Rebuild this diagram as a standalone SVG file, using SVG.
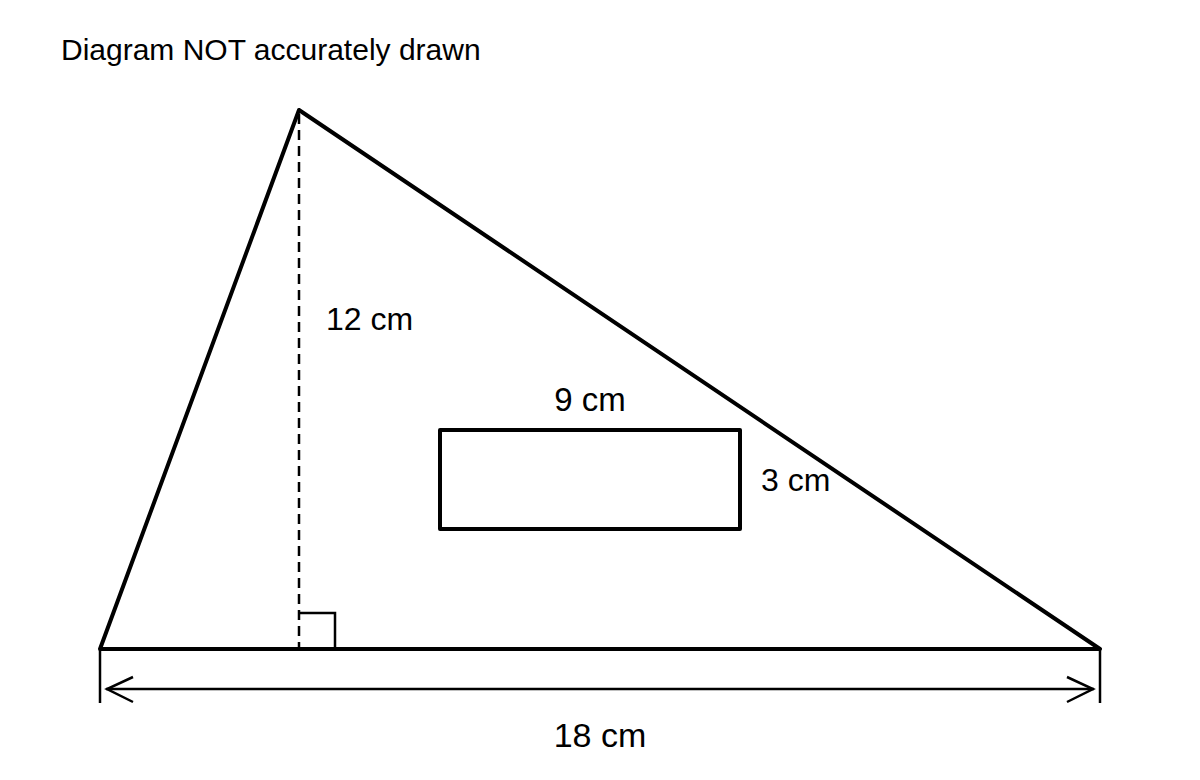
<svg xmlns="http://www.w3.org/2000/svg" width="1200" height="780" viewBox="0 0 1200 780">
<style>
.t{font-family:"Liberation Sans",Arial,sans-serif;fill:#000}
.thick{fill:none;stroke:#000;stroke-width:4;stroke-linejoin:round}
.thin{fill:none;stroke:#000;stroke-width:2.5}
</style>
<rect width="1200" height="780" fill="#fff"/>
<text class="t" x="61" y="60" font-size="30">Diagram NOT accurately drawn</text>
<g id="triangle">
<polygon class="thick" points="100,649 299,110 1100,649"/>
</g>
<g id="height">
<line class="thin" x1="299" y1="114" x2="299" y2="647" stroke-dasharray="10,6"/>
<polyline class="thin" points="299,613 335,613 335,649"/>
<text class="t" x="326" y="330" font-size="32">12 cm</text>
</g>
<g id="rectangle">
<rect class="thick" x="440" y="430" width="300" height="99"/>
<text class="t" x="590" y="411" font-size="33" text-anchor="middle">9 cm</text>
<text class="t" x="761" y="491" font-size="32">3 cm</text>
</g>
<g id="base-dimension">
<line class="thin" x1="100" y1="649" x2="100" y2="703"/>
<line class="thin" x1="1100" y1="649" x2="1100" y2="703"/>
<line class="thin" x1="106" y1="689" x2="1094" y2="689"/>
<polyline class="thin" points="133,677 107,689 133,702"/>
<polyline class="thin" points="1067,677 1093,689 1067,702"/>
<text class="t" x="600" y="747" font-size="34" text-anchor="middle">18 cm</text>
</g>
</svg>
